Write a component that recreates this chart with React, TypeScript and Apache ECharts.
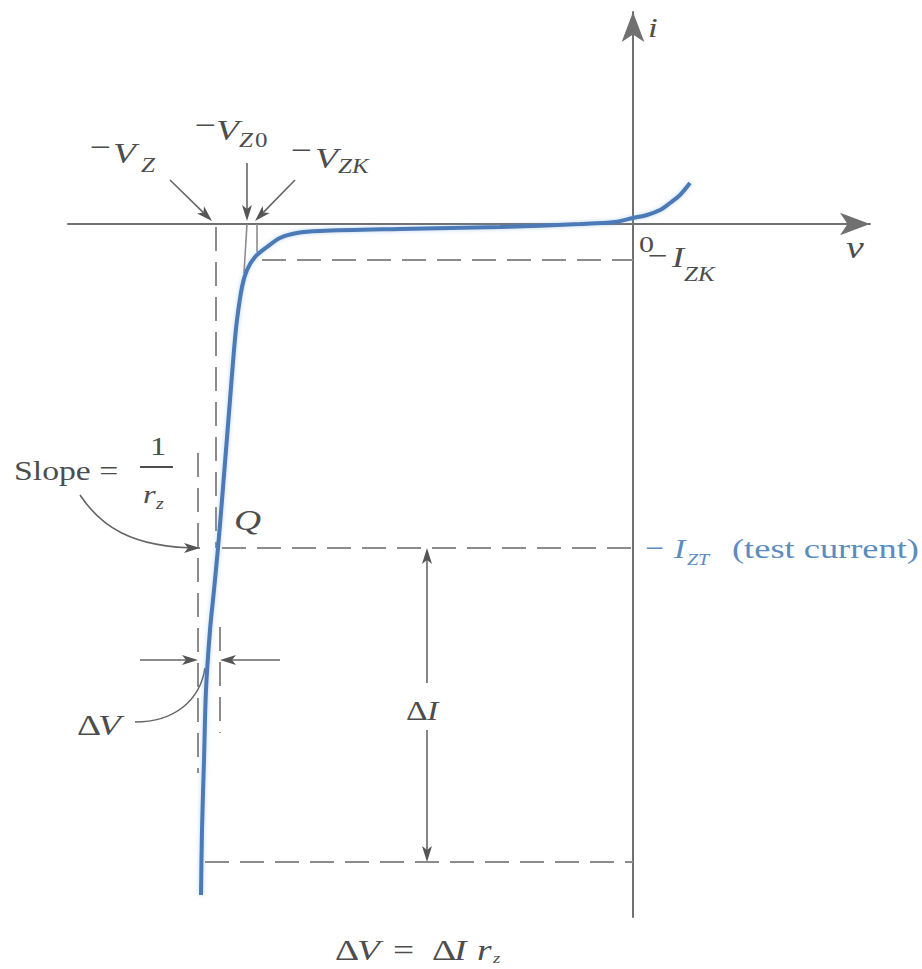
import React, { useEffect, useRef } from "react";
import * as echarts from "echarts";

// ---- data (v in arbitrary volts, i in arbitrary mA; origin at the axes' crossing) ----
const V_CURVE = [-4.32, -4.31, -4.29, -4.27, -4.23, -4.19, -4.15, -4.11, -4.07, -4.03, -3.99, -3.96, -3.91, -3.86, -3.78, -3.66, -3.53, -3.36, -3.13, -2.33, -1.33, -0.53, -0.18, 0.0, 0.14, 0.27, 0.37, 0.47, 0.57];
const I_CURVE = [-6.71, -6.06, -5.36, -4.66, -4.06, -3.66, -3.24, -2.76, -2.26, -1.76, -1.26, -0.96, -0.63, -0.46, -0.33, -0.23, -0.14, -0.09, -0.07, -0.05, -0.03, 0.0, 0.02, 0.06, 0.09, 0.14, 0.21, 0.29, 0.41];

const V_Z = -4.17;
const V_Z0 = -3.86;
const V_ZK = -3.76;
const I_ZK = -0.36;
const I_ZT = -3.24;
const I_LOW = -6.38;
const V_DV_L = -4.35;
const V_DV_R = -4.13;
const I_DV = -4.36;
const V_DI = -2.06;

const X_RANGE = [-5.65, 2.37];
const Y_RANGE = [-6.93, 2.12];

// dashed guide lines [v1, i1, v2, i2]
const DASHED = [
  [V_Z, -0.03, V_Z, I_ZT],
  [V_DV_L, -2.29, V_DV_L, -5.49],
  [V_DV_R, -4.03, V_DV_R, -5.09],
  [-3.71, I_ZK, 0, I_ZK],
  [-4.11, I_ZT, 0, I_ZT],
  [-4.28, I_LOW, 0, I_LOW],
];
// short solid markers
const SOLID = [
  [V_Z0, 0, -3.89, -0.49],
  [V_ZK, 0, V_ZK, -0.28],
];
// straight annotation arrows [from v, from i, to v, to i]
const ARROWS = [
  [-4.63, 0.44, -4.21, 0.03],
  [V_Z0, 0.61, V_Z0, 0.03],
  [-3.38, 0.44, -3.78, 0.03],
  [-4.93, I_DV, V_DV_L, I_DV],
  [-3.53, I_DV, V_DV_R, I_DV],
  [V_DI, -4.59, V_DI, I_ZT],
  [V_DI, -5.06, V_DI, I_LOW],
];
// curved leaders [p0, c1, c2, p3, head]
const LEADERS = [
  [-5.53, -2.71, -5.33, -3.01, -5.03, -3.24, -4.33, -3.24, 1],
  [-4.98, -4.98, -4.58, -4.98, -4.33, -4.76, -4.28, -4.44, 0],
];

const FONT = "'Liberation Serif', 'DejaVu Serif', 'Times New Roman', serif";
const TEXT = "#4d4d4d";
const BLUE_TEXT = "#5b8cc0";
const CURVE = "#4b7ab6";
const GUIDE = "#8c8c8c";
const ARROW = "#666666";
const SX = 1.25;

function txt(text: string, x: number, baseline: number, size: number, opts: any = {}) {
  return {
    type: "text",
    x,
    y: baseline - 0.34 * size,
    scaleX: opts.sx ?? SX,
    z: 100,
    style: {
      text,
      fontSize: size,
      fontFamily: FONT,
      fontStyle: opts.italic ? "italic" : "normal",
      fill: opts.color ?? TEXT,
      align: "left",
      verticalAlign: "middle",
    },
  };
}

function headPoly(from: number[], tip: number[]) {
  const dx = tip[0] - from[0];
  const dy = tip[1] - from[1];
  const len = Math.hypot(dx, dy) || 1;
  const ux = dx / len, uy = dy / len;
  const nx = -uy, ny = ux;
  const L = 16, W = 5, N = 12;
  const b1 = [tip[0] - ux * L + nx * W, tip[1] - uy * L + ny * W];
  const b2 = [tip[0] - ux * L - nx * W, tip[1] - uy * L - ny * W];
  const notch = [tip[0] - ux * N, tip[1] - uy * N];
  return { points: [tip, b1, notch, b2], notch };
}

export default function App() {
  const ref = useRef<HTMLDivElement>(null);
  useEffect(() => {
    if (!ref.current) return;
    const chart = echarts.init(ref.current, null, { renderer: "svg" });

    const curveData = V_CURVE.map((v, k) => [v, I_CURVE[k]]);
    const lineSeries = (seg: number[], dashed: boolean) => ({
      type: "line",
      data: [[seg[0], seg[1]], [seg[2], seg[3]]],
      symbol: "none",
      silent: true,
      clip: false,
      z: 2,
      lineStyle: { color: GUIDE, width: dashed ? 2 : 1.6, type: dashed ? [24, 11] : "solid" },
    });

    const graphicEls: any[] = [
      // -V_Z
      txt("\u2212", 90, 157.5, 30),
      txt("V", 113, 163, 30, { italic: true }),
      txt("Z", 141, 172, 20, { italic: true }),
      // -V_Z0
      txt("\u2212", 195, 135.5, 30),
      txt("V", 216, 140, 30, { italic: true }),
      txt("Z", 239, 147, 20, { italic: true }),
      txt("0", 255, 147, 20),
      // -V_ZK
      txt("\u2212", 291, 160.5, 30),
      txt("V", 315, 168, 30, { italic: true }),
      txt("ZK", 338, 173, 20, { italic: true }),
      // axes
      txt("i", 648, 37, 28, { italic: true }),
      txt("v", 846, 258, 32, { italic: true }),
      txt("0", 639, 252, 24),
      // -I_ZK
      txt("\u2212", 648, 265, 28),
      txt("I", 672, 267, 29, { italic: true }),
      txt("ZK", 684, 281, 20, { italic: true }),
      // -I_ZT (test current)
      txt("\u2212", 645, 557, 27, { color: BLUE_TEXT }),
      txt("I", 674, 558, 27, { italic: true, color: BLUE_TEXT }),
      txt("ZT", 687, 565, 16, { italic: true, color: BLUE_TEXT }),
      txt("(test current)", 732, 558, 28, { color: BLUE_TEXT, sx: 1.3 }),
      // Slope = 1 / r_z
      txt("Slope =", 14, 480, 27),
      txt("1", 150, 455, 26),
      { type: "line", z: 100, shape: { x1: 140, y1: 467, x2: 173, y2: 467 }, style: { stroke: TEXT, lineWidth: 2 } },
      txt("r", 143, 503, 26, { italic: true }),
      txt("z", 156, 509, 16, { italic: true }),
      // Q
      txt("Q", 234, 530, 30, { italic: true }),
      // ΔV
      txt("\u0394", 77, 735, 30),
      txt("V", 98, 735, 30, { italic: true }),
      // ΔI
      txt("\u0394", 406, 720, 27),
      txt("I", 427, 720, 27, { italic: true }),
      // bottom formula
      txt("\u0394", 335, 960, 30),
      txt("V", 357, 960, 30, { italic: true }),
      txt("=", 393, 960, 30),
      txt("\u0394", 432, 960, 30),
      txt("I", 454, 960, 30, { italic: true }),
      txt("r", 477, 960, 30, { italic: true }),
      txt("z", 493, 963, 15, { italic: true }),
    ];

    chart.setOption({
      animation: false,
      backgroundColor: "#ffffff",
      grid: { left: 68, right: 52, top: 12, bottom: 52, containLabel: false },
      xAxis: {
        type: "value",
        min: X_RANGE[0],
        max: X_RANGE[1],
        axisLine: {
          show: true,
          onZero: true,
          symbol: ["none", "arrow"],
          symbolSize: [17, 30],
          lineStyle: { color: "#707070", width: 2 },
        },
        axisTick: { show: false },
        axisLabel: { show: false },
        splitLine: { show: false },
      },
      yAxis: {
        type: "value",
        min: Y_RANGE[0],
        max: Y_RANGE[1],
        axisLine: {
          show: true,
          onZero: true,
          symbol: ["none", "arrow"],
          symbolSize: [17, 30],
          lineStyle: { color: "#707070", width: 2 },
        },
        axisTick: { show: false },
        axisLabel: { show: false },
        splitLine: { show: false },
      },
      graphic: { elements: graphicEls },
      series: [
        ...DASHED.map((s) => lineSeries(s, true)),
        ...SOLID.map((s) => lineSeries(s, false)),
        {
          type: "custom",
          silent: true,
          clip: false,
          z: 4,
          data: ARROWS,
          renderItem: (params: any, api: any) => {
            const a = api.coord([api.value(0), api.value(1)]);
            const b = api.coord([api.value(2), api.value(3)]);
            const h = headPoly(a, b);
            return {
              type: "group",
              children: [
                { type: "line", shape: { x1: a[0], y1: a[1], x2: h.notch[0], y2: h.notch[1] }, style: { stroke: ARROW, lineWidth: 1.6 } },
                { type: "polygon", shape: { points: h.points }, style: { fill: "#555555" } },
              ],
            };
          },
        },
        {
          type: "custom",
          silent: true,
          clip: false,
          z: 4,
          data: LEADERS,
          renderItem: (params: any, api: any) => {
            const p0 = api.coord([api.value(0), api.value(1)]);
            const c1 = api.coord([api.value(2), api.value(3)]);
            const c2 = api.coord([api.value(4), api.value(5)]);
            const p3 = api.coord([api.value(6), api.value(7)]);
            const children: any[] = [
              {
                type: "bezierCurve",
                shape: { x1: p0[0], y1: p0[1], cpx1: c1[0], cpy1: c1[1], cpx2: c2[0], cpy2: c2[1], x2: p3[0], y2: p3[1] },
                style: { stroke: ARROW, lineWidth: 1.6, fill: "none" },
              },
            ];
            if (api.value(8) > 0) {
              const h = headPoly(c2, p3);
              children.push({ type: "polygon", shape: { points: h.points }, style: { fill: "#555555" } });
            }
            return { type: "group", children };
          },
        },
        {
          type: "line",
          data: curveData,
          symbol: "none",
          smooth: 0.3,
          silent: true,
          clip: false,
          z: 6,
          lineStyle: { color: CURVE, width: 4, shadowColor: "rgba(110,160,215,0.45)", shadowBlur: 4 },
        },
      ],
    });
    return () => chart.dispose();
  }, []);

  return (
    <div
      ref={ref}
      style={{ position: "absolute", left: 0, top: 0, width: 922, height: 969, background: "#fff" }}
    />
  );
}
